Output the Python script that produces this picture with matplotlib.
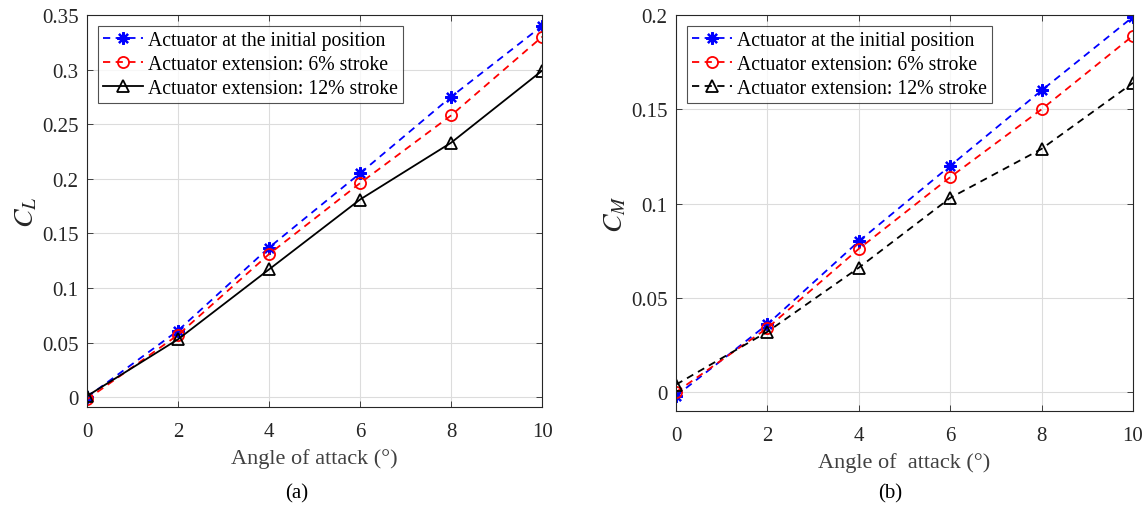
import matplotlib
matplotlib.use('Agg')
import matplotlib.pyplot as plt

plt.rcParams['font.family'] = ['Liberation Serif', 'DejaVu Serif']
plt.rcParams['mathtext.fontset'] = 'stix'

# angle of attack (deg)
aoa = [0, 2, 4, 6, 8, 10]

# lift coefficient
cl_initial = [0.0, 0.061, 0.137, 0.205, 0.275, 0.340]
cl_ext6 = [-0.002, 0.057, 0.131, 0.196, 0.258, 0.330]
cl_ext12 = [0.001, 0.053, 0.117, 0.181, 0.233, 0.299]

# moment coefficient
cm_initial = [-0.002, 0.036, 0.080, 0.120, 0.160, 0.199]
cm_ext6 = [0.0, 0.034, 0.076, 0.114, 0.150, 0.189]
cm_ext12 = [0.004, 0.032, 0.066, 0.103, 0.129, 0.164]

labels = ['Actuator at the initial position',
          'Actuator extension: 6% stroke',
          'Actuator extension: 12% stroke']

cl_ticks = [0, 0.05, 0.1, 0.15, 0.2, 0.25, 0.3, 0.35]
cl_ticklabels = ['0', '0.05', '0.1', '0.15', '0.2', '0.25', '0.3', '0.35']
cm_ticks = [0, 0.05, 0.1, 0.15, 0.2]
cm_ticklabels = ['0', '0.05', '0.1', '0.15', '0.2']

fig = plt.figure(figsize=(11.48, 5.06), dpi=100)
ax1 = fig.add_axes([0.0758, 0.1937, 0.3964, 0.7747])
ax2 = fig.add_axes([0.5889, 0.1858, 0.3980, 0.7826])


def style_axes(ax):
    ax.grid(True, color='#dcdcdc', linewidth=0.8)
    ax.set_axisbelow(True)
    ax.tick_params(direction='in', top=True, right=True, labelsize=15,
                   length=4, width=0.6, colors='#262626')
    ax.tick_params(axis='y', pad=6)
    ax.tick_params(axis='x', pad=11)
    for s in ax.spines.values():
        s.set_color('#262626')
        s.set_linewidth(0.8)
    ax.set_xlim(0, 10)
    ax.set_xticks(aoa)


def draw(ax, ys, ls12):
    # MATLAB-like asterisk (8 spokes)
    ax.plot(aoa, ys[0], '--', color='blue', marker=(8, 2, 0), markersize=9,
            markeredgewidth=1.6, linewidth=1.3, dashes=(4, 3), label=labels[0])
    ax.plot(aoa, ys[1], '--', color='red', marker='o', markersize=8,
            markerfacecolor='none', markeredgewidth=1.3, linewidth=1.3,
            dashes=(4, 3), label=labels[1])
    if ls12 == '-':
        ax.plot(aoa, ys[2], '-', color='black', marker='^', markersize=9,
                markerfacecolor='none', markeredgewidth=1.3, linewidth=1.3,
                label=labels[2])
    else:
        ax.plot(aoa, ys[2], '--', color='black', marker='^', markersize=9,
                markerfacecolor='none', markeredgewidth=1.3, linewidth=1.3,
                dashes=(4, 3), label=labels[2])
    leg = ax.legend(loc='upper left', fontsize=14.2, frameon=True, fancybox=False,
                    edgecolor='#262626', borderpad=0.25, labelspacing=0.25,
                    handlelength=2.05, handletextpad=0.25, borderaxespad=0.55)
    leg.get_frame().set_linewidth(0.8)


style_axes(ax1)
draw(ax1, [cl_initial, cl_ext6, cl_ext12], '-')
ax1.set_ylim(-0.009, 0.35)
ax1.set_yticks(cl_ticks)
ax1.set_yticklabels(cl_ticklabels)
ax1.set_xlabel('Angle of attack (°)', fontsize=16, color='#404040', labelpad=5)
ax1.set_ylabel('$C_L$', fontsize=20, color='#262626', labelpad=2)

style_axes(ax2)
draw(ax2, [cm_initial, cm_ext6, cm_ext12], '--')
ax2.set_ylim(-0.01, 0.2)
ax2.set_yticks(cm_ticks)
ax2.set_yticklabels(cm_ticklabels)
ax2.set_xlabel('Angle of  attack (°)', fontsize=16, color='#404040', labelpad=5)
ax2.set_ylabel('$C_M$', fontsize=20, color='#262626', labelpad=2)

fig.text(0.2587, 0.0237, '(a)', ha='center', va='center', fontsize=15)
fig.text(0.7753, 0.0237, '(b)', ha='center', va='center', fontsize=15)

fig.savefig('out.png', dpi=100)
